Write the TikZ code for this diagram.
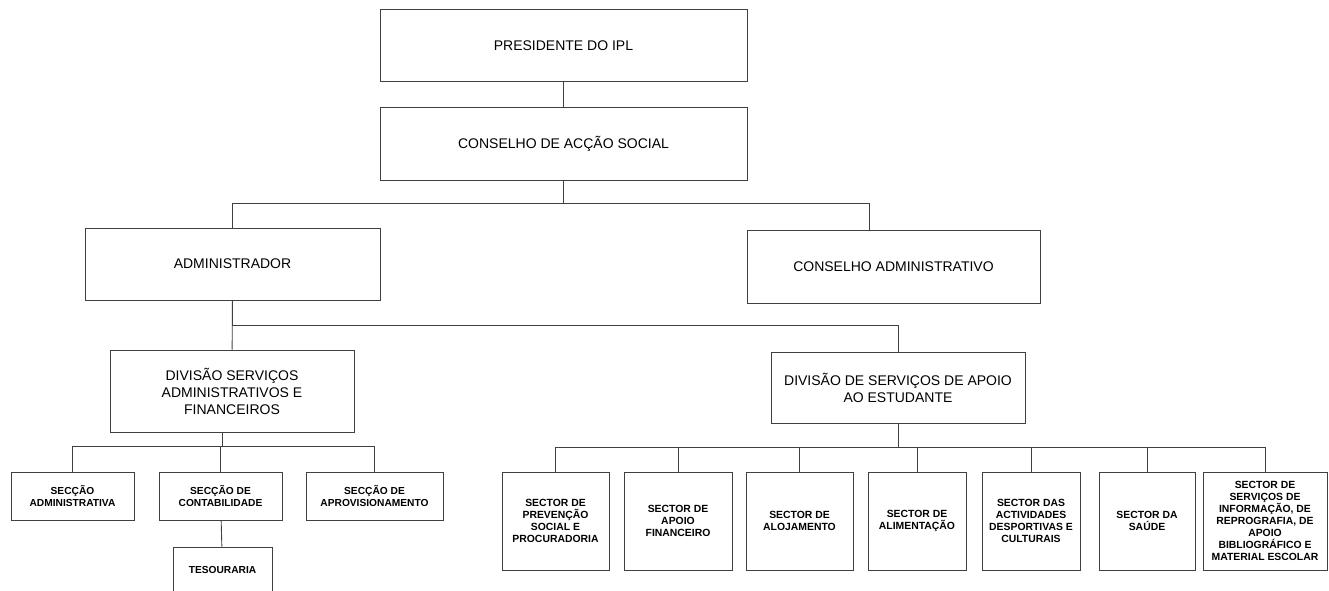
\documentclass[tikz,border=0pt]{standalone}
\usepackage{fontspec}
\setmainfont{Liberation Sans}
\usetikzlibrary{positioning}

\tikzset{
    orgbox/.style n args={2}{draw=black!75, line width=0.45pt, align=center,
        inner sep=1pt, minimum width=#1*0.5pt, minimum height=#2*0.5pt,
        font=\fontsize{7}{8.5}\selectfont},
    smallbox/.style n args={2}{orgbox={#1}{#2}, font=\bfseries\fontsize{5.1}{6}\selectfont},
    link/.style={draw=black!75, line width=0.45pt},
}

\begin{document}
\begin{tikzpicture}[x=0.5pt,y=-0.5pt]
\useasboundingbox (0,0) rectangle (1329,590);
% top of the chart
\node[orgbox={367}{72}] (pres) at (563.5,45.5) {PRESIDENTE DO IPL};
\node[orgbox={367}{73}] (cas) at (563.5,143.5) {CONSELHO DE ACÇÃO SOCIAL};
\node[orgbox={295}{72}] (admin) at (232.5,264) {ADMINISTRADOR};
\node[orgbox={293}{73}] (consadm) at (893.5,266.5) {CONSELHO ADMINISTRATIVO};
\node[orgbox={244}{82}] (dsaf) at (232,391) {DIVISÃO SERVIÇOS\\ADMINISTRATIVOS E\\FINANCEIROS};
\node[orgbox={254}{71}] (dsae) at (898,387.5) {DIVISÃO DE SERVIÇOS DE APOIO\\AO ESTUDANTE};
% bus lines
\coordinate (busA) at (0,203);
\coordinate (busB) at (0,325);
\coordinate (busC) at (0,446);
\coordinate (busD) at (0,447);
% seccoes
\node[smallbox={123}{48}] (sadm) at (72.5,496) {SECÇÃO\\ADMINISTRATIVA};
\node[smallbox={123}{48}] (scont) at (220.5,496) {SECÇÃO DE\\CONTABILIDADE};
\node[smallbox={137}{48}] (saprov) at (374.5,496) {SECÇÃO DE\\APROVISIONAMENTO};
\node[smallbox={99}{46}] (tes) at (222.5,570) {TESOURARIA};
% sectores
\foreach \x/\w/\t [count=\i] in {
    555.5/107/{SECTOR DE\\PREVENÇÃO\\SOCIAL E\\PROCURADORIA},
    678/108/{SECTOR DE\\APOIO\\FINANCEIRO},
    799.5/107/{SECTOR DE\\ALOJAMENTO},
    917/98/{SECTOR DE\\ALIMENTAÇÃO},
    1031/98/{SECTOR DAS\\ACTIVIDADES\\DESPORTIVAS E\\CULTURAIS},
    1147/96/{SECTOR DA\\SAÚDE},
    1265/124/{SECTOR DE\\SERVIÇOS DE\\INFORMAÇÃO, DE\\REPROGRAFIA, DE\\APOIO\\BIBLIOGRÁFICO E\\MATERIAL ESCOLAR}}
\node[smallbox={\w}{98}, font=\bfseries\fontsize{5.2}{6}\selectfont] (sec\i) at (\x,521) {\t};
% connectors
\draw[link] (pres) -- (cas);
\draw[link] (cas.south) -- (cas.south |- busA) -| (admin.north);
\draw[link] (cas.south) -- (cas.south |- busA) -| ([xshift=-12.25pt]consadm.north);
\draw[link] (admin) -- (dsaf);
\draw[link] (admin.south) -- (admin.south |- busB) -| (dsae.north);
\foreach \n in {sadm,scont,saprov}
\draw[link] ([xshift=-5pt]dsaf.south) -- ([xshift=-5pt]dsaf.south |- busC) -| (\n.north);
\draw[link] (scont) -- (tes);
\foreach \i in {1,...,7}
\draw[link] (dsae.south) -- (dsae.south |- busD) -| (sec\i.north);
\end{tikzpicture}
\end{document}
